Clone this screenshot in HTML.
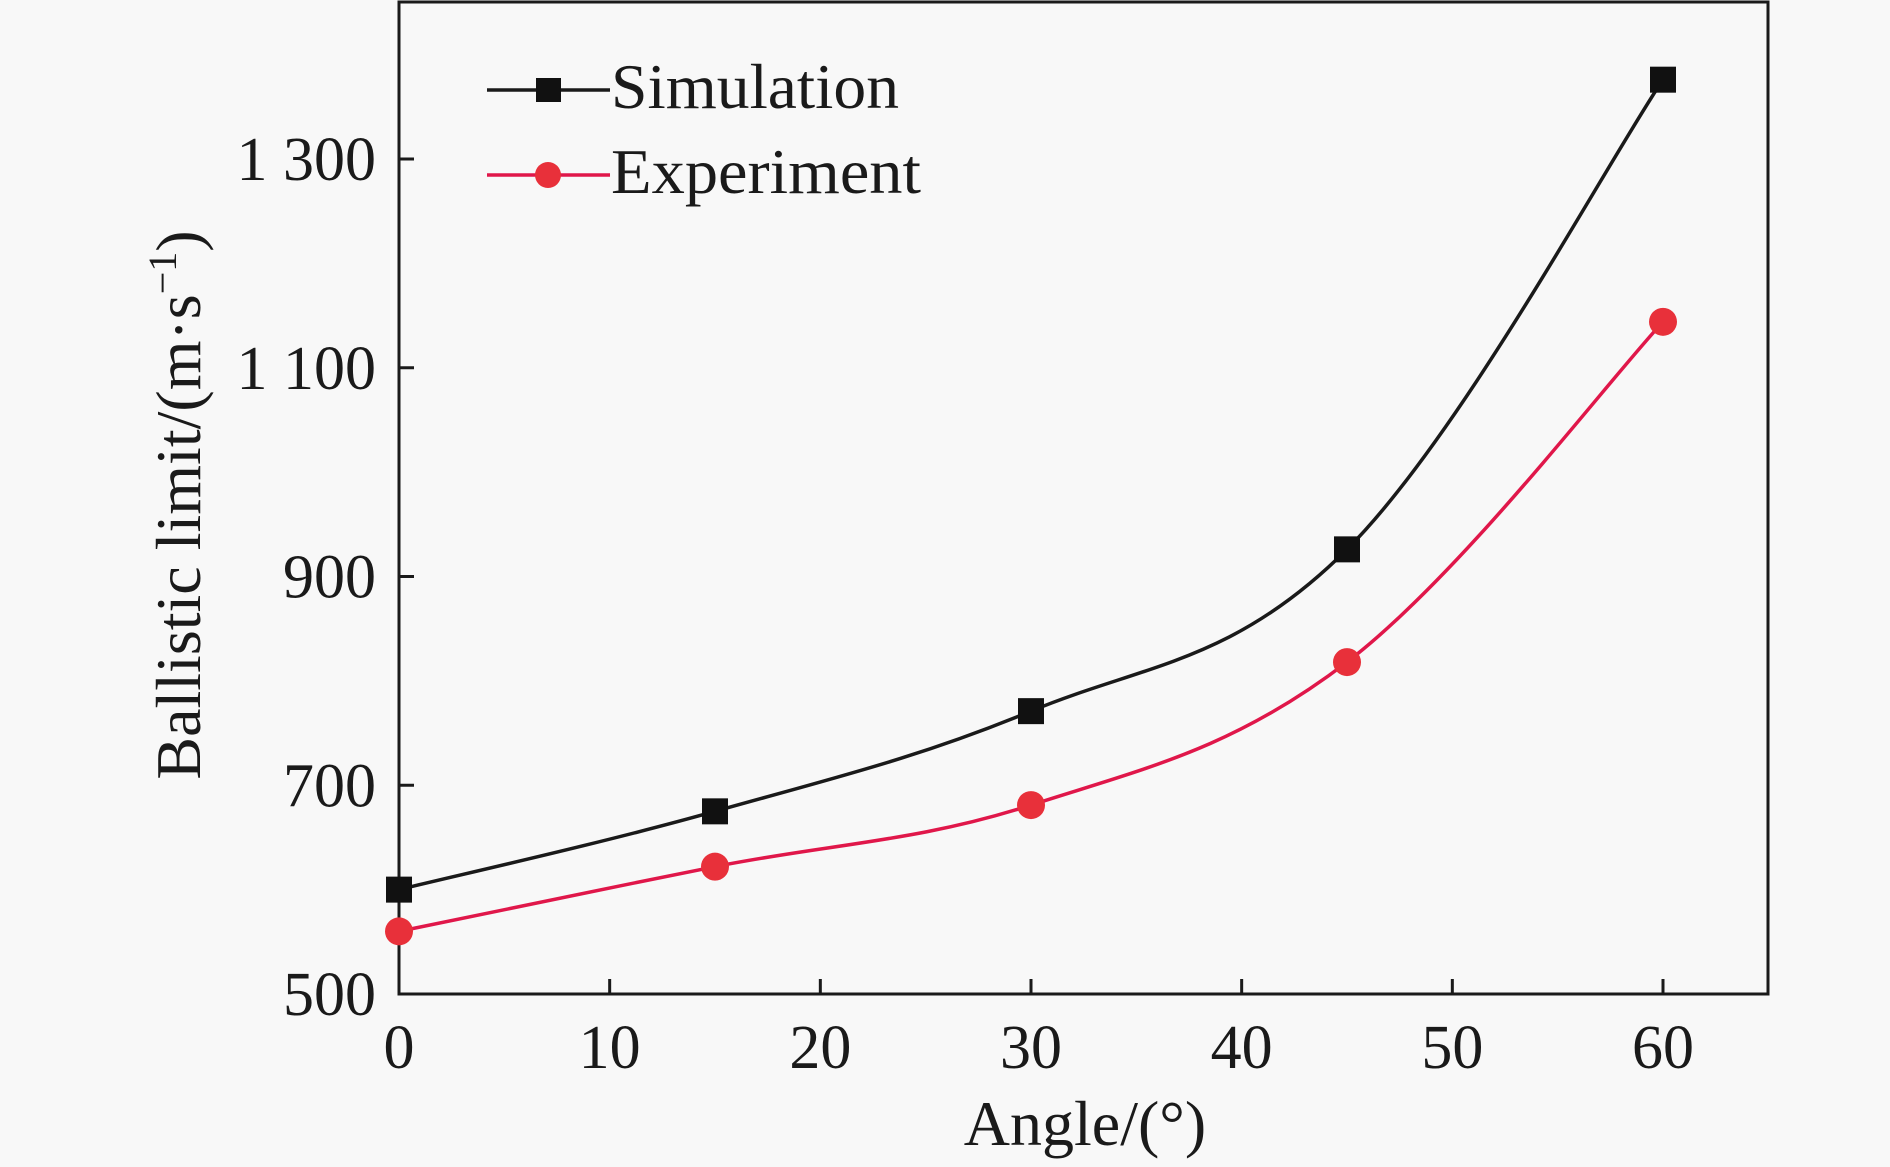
<!DOCTYPE html>
<html><head><meta charset="utf-8"><style>
html,body{margin:0;padding:0;background:#f8f8f8;}
svg{display:block;}
text{font-family:"Liberation Serif",serif;fill:#1a1a1a;}
</style></head><body>
<svg id="chart" width="1890" height="1167" viewBox="0 0 1890 1167" xmlns="http://www.w3.org/2000/svg">
<rect x="0" y="0" width="1890" height="1167" fill="#f8f8f8"/>
<g id="plot"></g>
</svg>
<script>
const categories = [0, 15, 30, 45, 60];
const simulation = [600, 675, 771, 926, 1376];
const experiment = [560, 622, 681, 818, 1144];
const xTicks = [0, 10, 20, 30, 40, 50, 60];
const yTicks = [500, 700, 900, 1100, 1300];
const yTickLabels = ["500", "700", "900", "1 100", "1 300"];

const L = 399, R = 1768, T = 2, B = 994;
function xs(v){ return 399 + (v - 0) * (1663 - 399) / 60; }
function ys(v){ return 994 - (v - 500) * (994 - 159) / 800; }

const NS = "http://www.w3.org/2000/svg";
const g = document.getElementById('plot');
function mk(tag, attrs){ const e = document.createElementNS(NS, tag); for (const k in attrs) e.setAttribute(k, attrs[k]); g.appendChild(e); return e; }

function smoothPath(xsArr, ysArr){
  const p = xsArr.map((x,i)=>[xs(x), ys(ysArr[i])]);
  let d = `M${p[0][0]},${p[0][1]}`;
  for (let i=0;i<p.length-1;i++){
    const p0 = p[Math.max(0,i-1)], p1 = p[i], p2 = p[i+1], p3 = p[Math.min(p.length-1,i+2)];
    const t = 0.18;
    const c1 = [p1[0] + (p2[0]-p0[0])*t, p1[1] + (p2[1]-p0[1])*t];
    const c2 = [p2[0] - (p3[0]-p1[0])*t, p2[1] - (p3[1]-p1[1])*t];
    d += ` C${c1[0]},${c1[1]} ${c2[0]},${c2[1]} ${p2[0]},${p2[1]}`;
  }
  return d;
}

// frame
let fr = mk('rect', {x:L, y:T, width:R-L, height:B-T, fill:'none', stroke:'#1a1a1a', 'stroke-width':3});



// x ticks
xTicks.forEach(v=>{
  const t = mk('line', {x1:xs(v), x2:xs(v), y1:B, y2:B-15, stroke:'#1a1a1a', 'stroke-width':3});
  
  
  const lb = mk('text', {x:xs(v), y:1068, 'font-size':62, 'text-anchor':'middle'});
  lb.textContent = String(v);
  
  
});
// y ticks
yTicks.forEach((v,i)=>{
  const t = mk('line', {x1:L, x2:L+15, y1:ys(v), y2:ys(v), stroke:'#1a1a1a', 'stroke-width':3});
  
  
  const lb = mk('text', {x:376, y:ys(v)+21, 'font-size':62, 'text-anchor':'end'});
  lb.textContent = yTickLabels[i];
  
  
});

// series
const simLine = mk('path', {d:smoothPath(categories, simulation), fill:'none', stroke:'#1a1a1a', 'stroke-width':3.5});


const expLine = mk('path', {d:smoothPath(categories, experiment), fill:'none', stroke:'#e0174a', 'stroke-width':3.5});



categories.forEach((c,i)=>{
  const s = mk('rect', {x:xs(c)-13, y:ys(simulation[i])-13, width:26, height:26, fill:'#111'});
  
  
});
categories.forEach((c,i)=>{
  const s = mk('circle', {cx:xs(c), cy:ys(experiment[i]), r:14, fill:'#e8303a'});
  
  
});

// legend
let l1 = mk('line', {x1:487, x2:610, y1:90, y2:90, stroke:'#1a1a1a', 'stroke-width':3.5});


let m1 = mk('rect', {x:536, y:78, width:25, height:24, fill:'#111'});


let t1 = mk('text', {x:611, y:108, 'font-size':64, textLength:288, lengthAdjust:'spacingAndGlyphs'});
t1.textContent = 'Simulation';


let l2 = mk('line', {x1:487, x2:610, y1:175, y2:175, stroke:'#e0174a', 'stroke-width':3.5});


let m2 = mk('circle', {cx:548, cy:175, r:13, fill:'#e8303a'});


let t2 = mk('text', {x:611, y:193, 'font-size':64, textLength:310, lengthAdjust:'spacingAndGlyphs'});
t2.textContent = 'Experiment';



// axis titles
let xt = mk('text', {x:1085, y:1145, 'font-size':64, 'text-anchor':'middle'});
xt.textContent = 'Angle/(°)';


let yt = mk('text', {x:0, y:0, 'font-size':64, 'text-anchor':'middle', transform:'translate(200,505) rotate(-90)'});
yt.innerHTML = 'Ballistic limit/(m·s<tspan dy="-24" font-size="40">−1</tspan><tspan dy="24">)</tspan>';


</script>
</body></html>
